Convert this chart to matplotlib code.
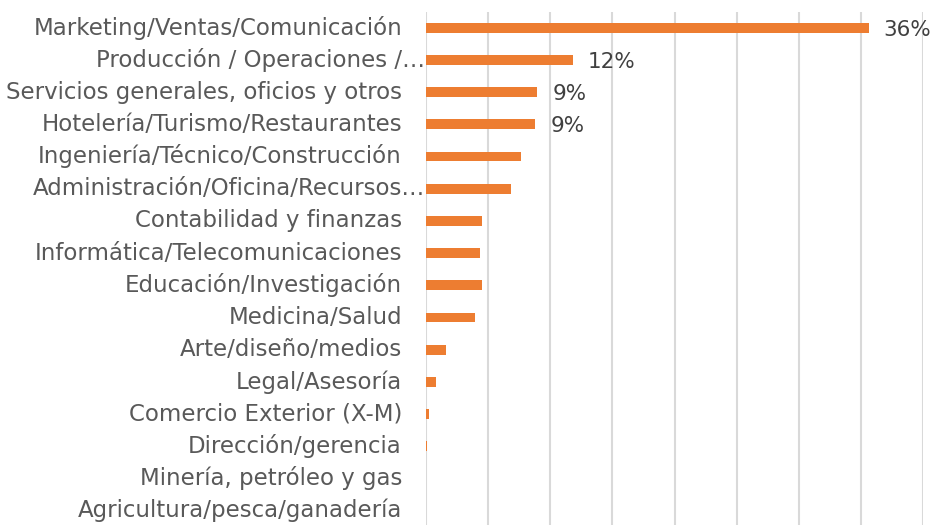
import matplotlib
matplotlib.use("Agg")
import matplotlib.pyplot as plt
from matplotlib.transforms import offset_copy

categories = [
    "Marketing/Ventas/Comunicación",
    "Producción / Operaciones /…",
    "Servicios generales, oficios y otros",
    "Hotelería/Turismo/Restaurantes",
    "Ingeniería/Técnico/Construcción",
    "Administración/Oficina/Recursos…",
    "Contabilidad y finanzas",
    "Informática/Telecomunicaciones",
    "Educación/Investigación",
    "Medicina/Salud",
    "Arte/diseño/medios",
    "Legal/Asesoría",
    "Comercio Exterior (X-M)",
    "Dirección/gerencia",
    "Minería, petróleo y gas",
    "Agricultura/pesca/ganadería",
]
values = [35.6, 11.8, 8.95, 8.8, 7.66, 6.86, 4.47, 4.34, 4.53, 3.96, 1.6, 0.8, 0.24, 0.12, 0.04, 0.0]
labels = ["36%", "12%", "9%", "9%"] + [""] * 12
xticks = [0, 5, 10, 15, 20, 25, 30, 35, 40]

plt.rcParams['font.family'] = ['DejaVu Sans']
FS = 16.5

fig = plt.figure(figsize=(9.32, 5.25), dpi=100)
ax = fig.add_axes([426 / 932, 1 - 526.8 / 525, (923.3 - 426) / 932, (526.8 - 11.6) / 525])

y = list(range(len(categories)))
bars = ax.barh(y, values, height=0.31, color="#ED7D31", zorder=3)
ax.set_ylim(len(categories) - 0.5, -0.5)
ax.set_xlim(0, 40)
ax.set_xticks(xticks)
ax.set_xticklabels([])
ax.tick_params(axis="x", length=0)
ax.tick_params(axis="y", length=0)
ax.set_yticks(y)
ax.set_yticklabels([])
ax.grid(axis="x", color="#D9D9D9", linewidth=1.5, zorder=0)
for s in ax.spines.values():
    s.set_visible(False)

tr_normal = offset_copy(ax.get_yaxis_transform(), fig=fig, x=-24, y=0, units="dots")
tr_trunc = offset_copy(ax.get_yaxis_transform(), fig=fig, x=-1, y=0, units="dots")
for yi, cat in zip(y, categories):
    tr = tr_trunc if cat.endswith("…") else tr_normal
    ax.text(0, yi, cat, transform=tr, ha="right", va="center",
            fontsize=FS, color="#595959", clip_on=False)

for b, lab in zip(bars, labels):
    if lab:
        ax.annotate(lab, (b.get_width(), b.get_y() + b.get_height() / 2),
                    xytext=(15, -2), textcoords="offset pixels",
                    ha="left", va="center", fontsize=15.5, color="#404040")

fig.savefig("out.png", dpi=100)
